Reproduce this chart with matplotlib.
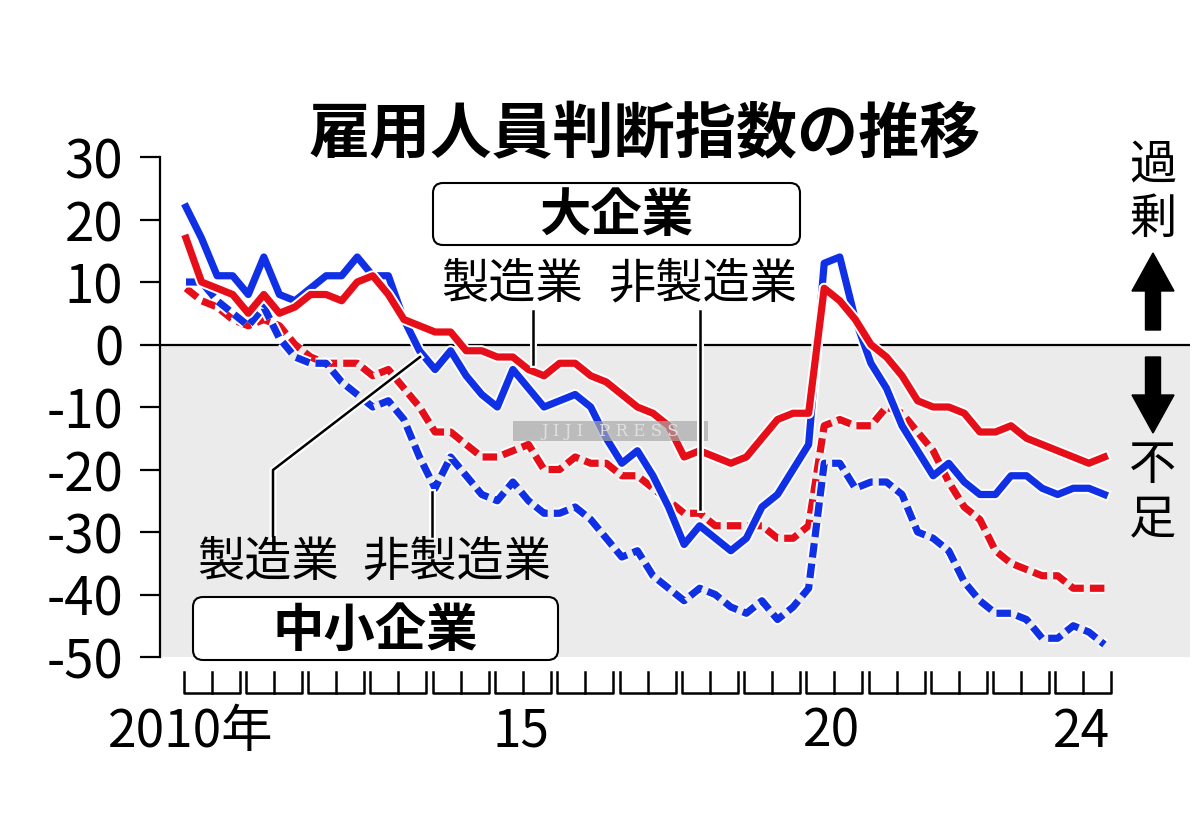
import matplotlib
matplotlib.use('Agg')
import matplotlib.pyplot as plt
import matplotlib.patheffects as pe
from matplotlib.patches import FancyBboxPatch, FancyArrow, Rectangle
from matplotlib.transforms import blended_transform_factory
import numpy as np

plt.rcParams['font.family'] = ['Noto Sans CJK JP', 'DejaVu Sans']
plt.rcParams['axes.unicode_minus'] = False

# quarterly values, 2010 Q1 .. 2024 Q4
years = list(range(2010, 2025))
label_years = [2010, 2015, 2020, 2024]
year_labels = ['2010年', '15', '20', '24']
yticks = [30, 20, 10, 0, -10, -20, -30, -40, -50]

large_mfg = [17, 10, 9, 8, 5, 8, 5, 6, 8, 8, 7, 10, 11, 8, 4,
             3, 2, 2, -1, -1, -2, -2, -4, -5, -3, -3, -5, -6, -8, -10,
             -11, -13, -18, -17, -18, -19, -18, -15, -12, -11, -11, 9, 7, 4, 0,
             -2, -5, -9, -10, -10, -11, -14, -14, -13, -15, -16, -17, -18, -19, -18]
large_nonmfg = [9, 7, 6, 4, 3, 4, 3, 0, -2, -3, -3, -3, -5, -4, -7,
                -10, -14, -14, -16, -18, -18, -17, -16, -20, -20, -18, -19, -19, -21, -21,
                -23, -25, -27, -27, -29, -29, -29, -29, -31, -31, -29, -13, -12, -13, -13,
                -10, -11, -14, -17, -22, -26, -28, -33, -35, -36, -37, -37, -39, -39, -39]
small_mfg = [22, 17, 11, 11, 8, 14, 8, 7, 9, 11, 11, 14, 11, 11, 4,
             -1, -4, -1, -5, -8, -10, -4, -7, -10, -9, -8, -10, -15, -19, -17,
             -21, -26, -32, -29, -31, -33, -31, -26, -24, -20, -16, 13, 14, 4, -3,
             -7, -13, -17, -21, -19, -22, -24, -24, -21, -21, -23, -24, -23, -23, -24]
small_nonmfg = [10, 10, 7, 5, 3, 6, 1, -2, -3, -3, -6, -8, -10, -9, -12,
                -18, -23, -18, -21, -24, -25, -22, -25, -27, -27, -26, -28, -31, -34, -33,
                -37, -39, -41, -39, -40, -42, -43, -41, -44, -42, -39, -19, -19, -23, -22,
                -22, -24, -30, -31, -33, -38, -41, -43, -43, -44, -47, -47, -45, -46, -48]

q = np.arange(len(large_mfg))
red = '#e60f19'
blue = '#1030e6'
dash = (0, (2.0, 0.85))

fig = plt.figure(figsize=(12, 8.4), dpi=100)
ax = fig.add_axes([160/1200, 1 - 657/840, 1030/1200, 500/840])
ax.set_xlim(-1.67, 64.5)
ax.set_ylim(-50, 30)
ax.axhspan(-50, 0, color='#ebebeb', lw=0, zorder=0)
ax.axhline(0, color='black', lw=1.6, zorder=1)

halo = [pe.Stroke(linewidth=8, foreground='white'), pe.Normal()]
ax.plot(q, large_nonmfg, color=red, lw=5.2, ls=dash, path_effects=halo, zorder=2)
ax.plot(q, small_nonmfg, color=blue, lw=5.2, ls=dash, path_effects=halo, zorder=3)
ax.plot(q, small_mfg, color=blue, lw=5.2, path_effects=halo, zorder=4)
ax.plot(q, large_mfg, color=red, lw=5.2, path_effects=halo, zorder=5)

for s in ['top', 'right', 'bottom']:
    ax.spines[s].set_visible(False)
ax.spines['left'].set_linewidth(1.6)
ax.set_yticks(yticks)
ax.set_yticklabels([str(v) for v in yticks])
ax.tick_params(axis='y', length=14.4, width=1.6, pad=12, labelsize=38)
ax.set_xticks([])

# year brackets under the plot
tr = blended_transform_factory(ax.transData, ax.transAxes)
for k, yr in enumerate(years):
    x0, x1 = 4 * k - 0.15, 4 * k + 3.45
    xm = (x0 + x1) / 2
    ax.plot([x0, x0, x1, x1], [-0.03, -0.072, -0.072, -0.03], color='black',
            lw=1.8, transform=tr, clip_on=False)
    ax.plot([xm, xm], [-0.072, -0.03], color='black', lw=1.8, transform=tr, clip_on=False)
for yr, lab in zip(label_years, year_labels):
    k = yr - 2010
    xc = 4 * k + 1.5 if yr != 2010 else 0.3
    ax.text(xc, -0.15, lab, transform=tr, ha='center', va='center', fontsize=37)

# annotation layer in pixel coordinates
ov = fig.add_axes([0, 0, 1, 1])
ov.set_xlim(0, 1200)
ov.set_ylim(840, 0)
ov.axis('off')

ov.text(645, 135, '雇用人員判断指数の推移', ha='center', va='center',
        fontsize=44, fontweight='bold')

ov.add_patch(Rectangle((513, 421), 195, 20, fc='#a8a8a8', ec='none', alpha=0.7))
ov.text(610, 431, 'J I J I   P R E S S', ha='center', va='center', fontsize=12,
        color='#e0e0e0', family='DejaVu Serif')

ptr = [pe.Stroke(linewidth=5, foreground='white'), pe.Normal()]

ov.add_patch(FancyBboxPatch((433, 183), 367, 62, boxstyle='round,pad=0,rounding_size=10',
                            fc='white', ec='black', lw=1.5))
ov.text(616, 216, '大企業', ha='center', va='center', fontsize=37, fontweight='bold')
ov.text(512, 285, '製造業', ha='center', va='center', fontsize=34)
ov.text(703, 285, '非製造業', ha='center', va='center', fontsize=34)
ov.plot([533, 533], [311, 364], color='black', lw=1.8, path_effects=ptr)
ov.plot([700, 700], [311, 509], color='black', lw=1.8, path_effects=ptr)

ov.add_patch(FancyBboxPatch((193, 597), 365, 63, boxstyle='round,pad=0,rounding_size=10',
                            fc='white', ec='black', lw=1.5))
ov.text(375, 630, '中小企業', ha='center', va='center', fontsize=37, fontweight='bold')
ov.text(268, 563, '製造業', ha='center', va='center', fontsize=34)
ov.text(457, 563, '非製造業', ha='center', va='center', fontsize=34)
ov.plot([273, 273, 420], [536, 470, 357], color='black', lw=1.8, path_effects=ptr)
ov.plot([432, 432], [536, 492], color='black', lw=1.8, path_effects=ptr)

ov.text(1153, 193, '過\n剰', ha='center', va='center', fontsize=34, linespacing=1.15)
ov.text(1153, 493, '不\n足', ha='center', va='center', fontsize=34, linespacing=1.15)
ov.add_patch(FancyArrow(1153, 330, 0, -77, width=15, head_width=42, head_length=38,
                        length_includes_head=True, color='black'))
ov.add_patch(FancyArrow(1153, 357, 0, 76, width=15, head_width=42, head_length=38,
                        length_includes_head=True, color='black'))

fig.savefig('out.png', dpi=100)
